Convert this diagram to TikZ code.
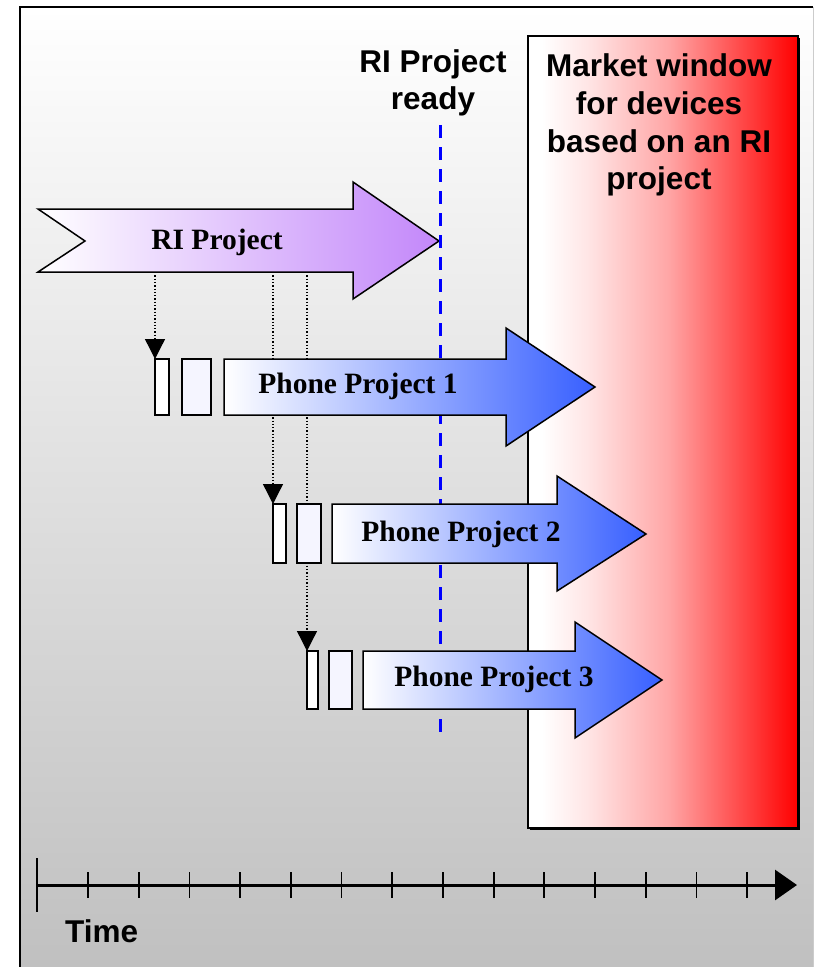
\documentclass[tikz,border=0pt]{standalone}
\usepackage{fontspec}
\setmainfont{Liberation Serif}
\newfontfamily\sansfont{Liberation Sans}
\usetikzlibrary{arrows.meta}
\definecolor{bggray}{RGB}{192,192,192}
\definecolor{purpleR}{RGB}{195,135,250}
\definecolor{purpleM}{RGB}{236,220,255}
\definecolor{blueR}{RGB}{55,95,255}
\definecolor{blueM}{RGB}{192,202,255}
\definecolor{lavender}{RGB}{245,245,255}
\definecolor{dashblue}{RGB}{0,0,255}
\pgfdeclarehorizontalshading{marketshade}{100bp}{color(0bp)=(white); color(25bp)=(white); color(27.5bp)=(white); color(36bp)=(white!90!red); color(51bp)=(white!65!red); color(75bp)=(red); color(100bp)=(red)}
\tikzset{
  outline/.style={draw=black, line width=1.5pt},
  riarrow/.style={outline, left color=white, middle color=purpleM, right color=purpleR},
  phonearrow/.style={outline, left color=white, middle color=blueM, right color=blueR},
  slotA/.style={outline, fill=white},
  slotB/.style={outline, fill=lavender},
  bartext/.style={font=\bfseries\fontsize{29.5}{33}\selectfont, inner sep=0pt},
  headtext/.style={font=\sansfont\bfseries\fontsize{31.5}{37.8}\selectfont, align=center, inner sep=0pt},
  dropline/.style={line width=1.3pt, dotted, -{Triangle[length=20pt,width=20pt]}},
  tick/.style={line width=1.8pt},
}
\begin{document}
\begin{tikzpicture}[x=1pt,y=-1pt]
\useasboundingbox (0,0) rectangle (815,967);
% background panel
\shade[top color=white, bottom color=bggray] (20,7) rectangle (813,967);
\draw[line width=2.5pt] (20,967) -- (20,7) -- (813,7);
\draw[line width=1pt, gray!40] (813,7) -- (813,967);
% market window
\fill[black] (529.5,37.5) rectangle (799.5,829.5);
\shade[shading=marketshade, draw=black, line width=1.5pt] (528,36) rectangle (798,828);
\node[headtext, anchor=north] (market) at (659,53.5) {Market window\\for devices\\based on an RI\\project};
% RI project ready
\node[headtext, anchor=north] (ready) at (433,49) {RI Project\\ready};
% RI project arrow
\path[riarrow] (38,209) -- (353,209) -- (353,182) -- (439,241) -- (353,299) -- (353,272) -- (38,272) -- (85,241) -- cycle;
\node[bartext] (ri) at (217,242) {RI Project};
\coordinate (ritip) at (439,241);
% ready line
\coordinate (lineTop) at (440,125);
\coordinate (lineBot) at (440,735);
\draw[dashblue, line width=3pt, dash pattern=on 13pt off 9pt] (lineTop) -- (lineBot);
% drop lines
\coordinate (d1) at (155,272);
\coordinate (d2) at (273,272);
\coordinate (d3) at (307,272);
\coordinate (s1) at (155,359);
\coordinate (s2) at (273,504);
\coordinate (s3) at (307,651);
\draw[dropline] (d1) -- (s1);
\draw[dropline] (d2) -- (s2);
\draw[dropline] (d3) -- (s3);
% phone project 1
\path[slotA] (155,359) rectangle (169,415);
\path[slotB] (182,359) rectangle (211,415);
\path[phonearrow] (224,359) -- (506,359) -- (506,328) -- (595,387) -- (506,446) -- (506,415) -- (224,415) -- cycle;
\node[bartext] (p1) at (358,386) {Phone Project 1};
% phone project 2
\path[slotA] (273,504) rectangle (286,563);
\path[slotB] (297,504) rectangle (321,563);
\path[phonearrow] (332,504) -- (557,504) -- (557,476) -- (646,534) -- (557,591) -- (557,563) -- (332,563) -- cycle;
\node[bartext] (p2) at (461,534) {Phone Project 2};
% phone project 3
\path[slotA] (307,651) rectangle (318,709);
\path[slotB] (329,651) rectangle (352,709);
\path[phonearrow] (363,651) -- (575,651) -- (575,622) -- (662,680) -- (575,738) -- (575,709) -- (363,709) -- cycle;
\node[bartext] (p3) at (494,679) {Phone Project 3};
% time axis
\coordinate (t0) at (37,885);
\coordinate (tend) at (797,885);
\draw[line width=2.5pt] (37,858) -- (37,912);
\draw[line width=3pt, -{Triangle[length=22pt,width=30pt]}] (t0) -- (tend);
\foreach \i in {0,...,13} {
  \draw[tick] ({88+50.7*\i},872) -- ({88+50.7*\i},898);
}
\node[font=\sansfont\bfseries\fontsize{31.5}{36}\selectfont, anchor=base west, inner sep=0pt] (time) at (65,942) {Time};
\end{tikzpicture}
\end{document}
